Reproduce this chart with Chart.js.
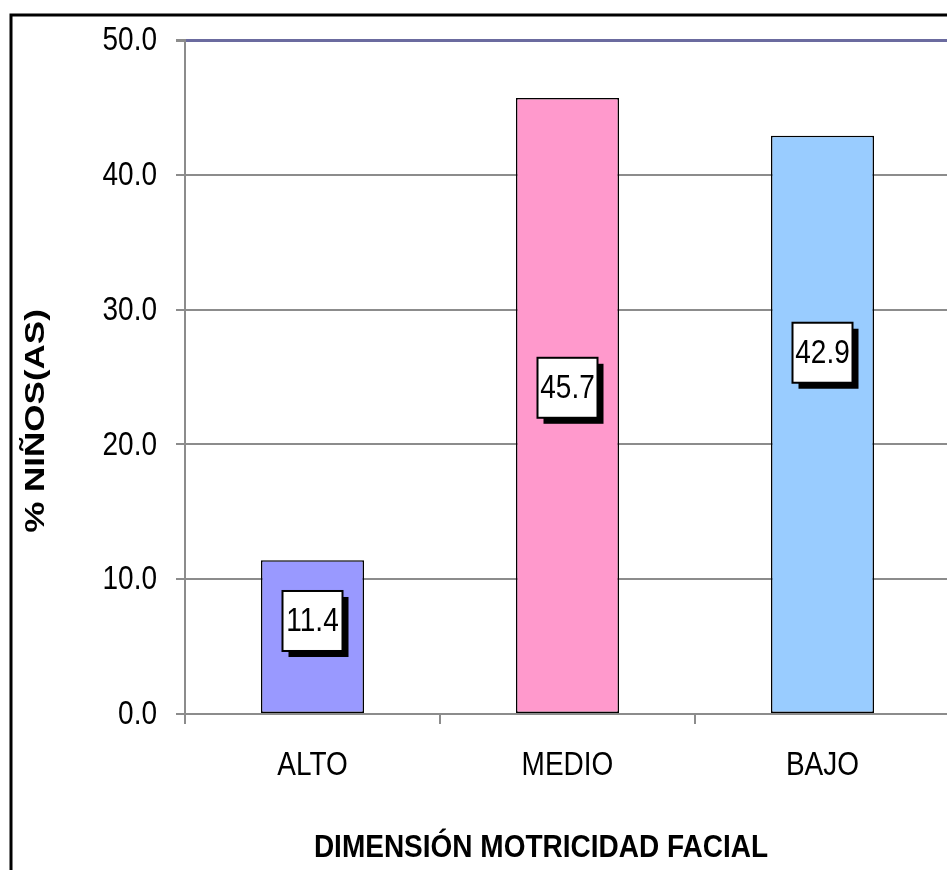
<!DOCTYPE html>
<html>
<head>
<meta charset="utf-8">
<title>Dimensión motricidad facial</title>
<script src="https://cdn.jsdelivr.net/npm/chart.js@4"></script>
<style>
  html, body { margin: 0; padding: 0; background: #fff; overflow: hidden; }
  #wrap { width: 960px; height: 870px; }
</style>
</head>
<body>
<div id="wrap"><canvas id="grafico" width="960" height="870"></canvas></div>
<script>
// niveles y porcentaje de niños(as)
const niveles = ["ALTO", "MEDIO", "BAJO"];
const porcentajes = [11.4, 45.7, 42.9];
const colores = ["#9999ff", "#ff99cc", "#99ccff"];
const yTicks = [0, 10, 20, 30, 40, 50];

const tituloY = "% NIÑOS(AS)";
const tituloX = "DIMENSIÓN MOTRICIDAD FACIAL";

// altura (en unidades del eje) donde va cada etiqueta de valor
const alturaEtiqueta = [6.9, 24.2, 26.8];

const fuente = '"Liberation Sans", Arial, sans-serif';

// texto angosto: Arial estirado en vertical
function textoAlto(ctx, txt, x, y, align) {
  ctx.save();
  ctx.translate(x, y);
  ctx.scale(1, 1.2);
  ctx.font = "28px " + fuente;
  ctx.textAlign = align;
  ctx.textBaseline = "middle";
  ctx.fillStyle = "#000";
  ctx.fillText(txt, 0, 0);
  ctx.restore();
}

// marco, titulos, etiquetas de ejes y etiquetas con sombra
const extras = {
  id: "extras",
  afterDatasetsDraw(chart) {
    const ctx = chart.ctx;
    const meta = chart.getDatasetMeta(0);
    const y = chart.scales.y;
    ctx.save();
    meta.data.forEach((bar, i) => {
      const cx = bar.x;
      const cy = y.getPixelForValue(alturaEtiqueta[i]);
      const w = 60, h = 60;
      ctx.fillStyle = "#000";
      ctx.fillRect(cx - w / 2 + 6, cy - h / 2 + 6, w, h);
      ctx.fillStyle = "#fff";
      ctx.fillRect(cx - w / 2, cy - h / 2, w, h);
      ctx.strokeStyle = "#000";
      ctx.lineWidth = 2;
      ctx.strokeRect(cx - w / 2, cy - h / 2, w, h);
      textoAlto(ctx, porcentajes[i].toFixed(1), cx, cy + 1, "center");
    });
    ctx.restore();
  },
  afterDraw(chart) {
    const ctx = chart.ctx;
    const xs = chart.scales.x, ys = chart.scales.y;
    ctx.save();
    // marco exterior
    ctx.strokeStyle = "#000";
    ctx.lineWidth = 3;
    ctx.strokeRect(11, 15, 1200, 1200);

    // etiquetas eje Y
    ys.ticks.forEach(t => {
      textoAlto(ctx, t.value.toFixed(1), 157, ys.getPixelForValue(t.value) + 1, "right");
    });
    // etiquetas eje X
    niveles.forEach((n, i) => {
      textoAlto(ctx, n, xs.getPixelForTick(i), 766, "center");
    });

    ctx.fillStyle = "#000";
    ctx.textAlign = "center";
    // titulo eje Y
    ctx.save();
    ctx.translate(36, 421);
    ctx.rotate(-Math.PI / 2);
    ctx.scale(1.25, 1);
    ctx.font = "bold 28px " + fuente;
    ctx.textBaseline = "middle";
    ctx.fillText(tituloY, 0, 0);
    ctx.restore();
    // titulo eje X
    ctx.save();
    ctx.translate(541, 857);
    ctx.scale(1, 1.15);
    ctx.font = "bold 28px " + fuente;
    ctx.textBaseline = "alphabetic";
    ctx.fillText(tituloX, 0, 0);
    ctx.restore();
    ctx.restore();
  }
};

const canvas = document.getElementById("grafico");
new Chart(canvas.getContext("2d"), {
  type: "bar",
  data: {
    labels: niveles,
    datasets: [{
      data: porcentajes,
      backgroundColor: colores,
      borderColor: "#000",
      borderWidth: 1.5,
      borderSkipped: false,
      barPercentage: 0.404,
      categoryPercentage: 1
    }]
  },
  options: {
    responsive: false,
    animation: false,
    devicePixelRatio: 1,
    layout: { padding: { top: 40, right: 10, left: 0, bottom: 0 } },
    plugins: {
      legend: { display: false },
      tooltip: { enabled: false }
    },
    scales: {
      x: {
        afterFit: (s) => { s.height = 156; },
        grid: {
          offset: true,
          drawOnChartArea: false,
          drawTicks: true,
          tickLength: 10,
          color: "#8c8c8c",
          lineWidth: 2
        },
        border: { color: "#8c8c8c", width: 2 },
        ticks: { display: false }
      },
      y: {
        min: 0,
        max: 50,
        afterFit: (s) => { s.width = 185; },
        afterBuildTicks: (s) => { s.ticks = yTicks.map(v => ({ value: v })); },
        grid: {
          color: (c) => c.tick && c.tick.value === 50 ? "#6b6b9f" : "#8c8c8c",
          lineWidth: (c) => c.tick && c.tick.value === 50 ? 3 : 2,
          tickColor: "#8c8c8c",
          tickLength: 9
        },
        border: { color: "#8c8c8c", width: 2 },
        ticks: { display: false }
      }
    }
  },
  plugins: [extras]
});
</script>
</body>
</html>
